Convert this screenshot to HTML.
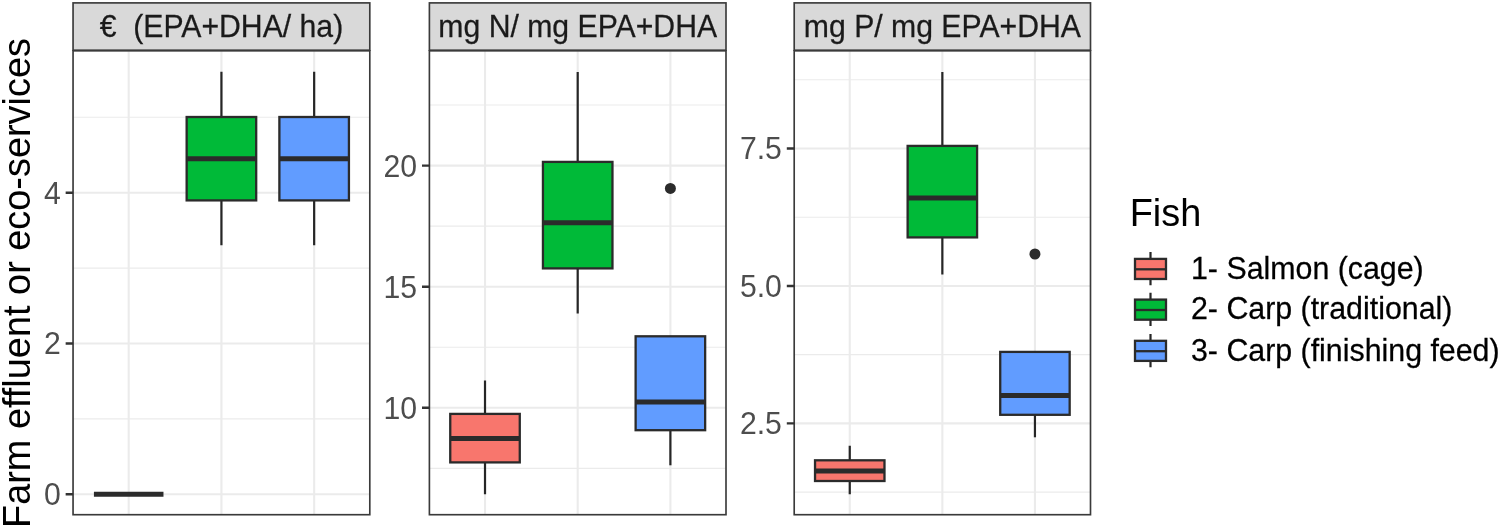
<!DOCTYPE html>
<html><head><meta charset="utf-8"><title>Boxplot</title>
<style>
html,body{margin:0;padding:0;background:#fff;}
svg{display:block;}
text{font-family:"Liberation Sans",sans-serif;}
.gmaj{stroke:#ebebeb;stroke-width:2.1;}
.gmin{stroke:#ebebeb;stroke-width:1.1;}
.tick{font-size:30.2px;fill:#4d4d4d;text-anchor:end;}
.strip{font-size:30.2px;fill:#1a1a1a;text-anchor:middle;stroke:#1a1a1a;stroke-width:0.25;}
.box{stroke:#2b2b2b;stroke-width:2.3;}
.wh{stroke:#262626;stroke-width:2.2;fill:none;}
.med{stroke:#2b2b2b;stroke-width:5;}
.tk{stroke:#333;stroke-width:2.4;}
.bd{fill:none;stroke:#3a3a3a;stroke-width:1.65;}
.leg{font-size:30.35px;fill:#000;stroke:#000;stroke-width:0.25;}
</style></head><body>
<svg width="1500" height="527" viewBox="0 0 1500 527">
<rect width="1500" height="527" fill="#fff"/>
<text transform="translate(30.3,528.0) rotate(-90)" font-size="37.9" fill="#000">Farm effluent or eco-services</text>
<g>
<rect x="73.05" y="50.5" width="296.75" height="464.2" fill="#fff"/>
<line class="gmin" x1="73.05" x2="369.8" y1="418.9" y2="418.9"/>
<line class="gmin" x1="73.05" x2="369.8" y1="268.1" y2="268.1"/>
<line class="gmin" x1="73.05" x2="369.8" y1="117.3" y2="117.3"/>
<line class="gmaj" x1="73.05" x2="369.8" y1="494.3" y2="494.3"/>
<line class="gmaj" x1="73.05" x2="369.8" y1="343.5" y2="343.5"/>
<line class="gmaj" x1="73.05" x2="369.8" y1="192.7" y2="192.7"/>
<line class="gmaj" x1="128.69" x2="128.69" y1="50.5" y2="514.7"/>
<line class="gmaj" x1="221.43" x2="221.43" y1="50.5" y2="514.7"/>
<line class="gmaj" x1="314.16" x2="314.16" y1="50.5" y2="514.7"/>
<line class="med" x1="93.92" x2="163.47" y1="494.3" y2="494.3"/>
<path class="wh" d="M221.43 71.7V117M221.43 200.4V245.3"/>
<rect class="box" x="186.65" y="117" width="69.55" height="83.4" fill="#00ba38"/>
<line class="med" x1="186.65" x2="256.2" y1="158.7" y2="158.7"/>
<path class="wh" d="M314.16 71.7V117M314.16 200.4V245.3"/>
<rect class="box" x="279.38" y="117" width="69.55" height="83.4" fill="#619cff"/>
<line class="med" x1="279.38" x2="348.93" y1="158.7" y2="158.7"/>
<rect class="bd" x="73.05" y="50.8" width="296.75" height="463.9"/>
<rect x="73.05" y="2.9" width="296.75" height="47.3" fill="#d9d9d9" stroke="#3a3a3a" stroke-width="1.65"/>
<text class="strip" transform="translate(221.43,37.0) scale(1,1.03)" xml:space="preserve">€  (EPA+DHA/ ha)</text>
<path class="tk" d="M65.65 494.3H73.05M65.65 343.5H73.05M65.65 192.7H73.05"/>
<text class="tick" transform="translate(60.75,505.2) scale(1,1.02)">0</text>
<text class="tick" transform="translate(60.75,354.4) scale(1,1.02)">2</text>
<text class="tick" transform="translate(60.75,203.6) scale(1,1.02)">4</text>
</g>
<g>
<rect x="429.4" y="50.5" width="296.6" height="464.2" fill="#fff"/>
<line class="gmin" x1="429.4" x2="726" y1="468.35" y2="468.35"/>
<line class="gmin" x1="429.4" x2="726" y1="347.25" y2="347.25"/>
<line class="gmin" x1="429.4" x2="726" y1="226.15" y2="226.15"/>
<line class="gmin" x1="429.4" x2="726" y1="105.05" y2="105.05"/>
<line class="gmaj" x1="429.4" x2="726" y1="407.8" y2="407.8"/>
<line class="gmaj" x1="429.4" x2="726" y1="286.7" y2="286.7"/>
<line class="gmaj" x1="429.4" x2="726" y1="165.6" y2="165.6"/>
<line class="gmaj" x1="485.01" x2="485.01" y1="50.5" y2="514.7"/>
<line class="gmaj" x1="577.7" x2="577.7" y1="50.5" y2="514.7"/>
<line class="gmaj" x1="670.39" x2="670.39" y1="50.5" y2="514.7"/>
<path class="wh" d="M485.01 380.5V413.9M485.01 462.4V494.3"/>
<rect class="box" x="450.25" y="413.9" width="69.52" height="48.5" fill="#f8766d"/>
<line class="med" x1="450.25" x2="519.77" y1="438.4" y2="438.4"/>
<path class="wh" d="M577.7 71.9V161.9M577.7 268.4V313.4"/>
<rect class="box" x="542.94" y="161.9" width="69.52" height="106.5" fill="#00ba38"/>
<line class="med" x1="542.94" x2="612.46" y1="222.8" y2="222.8"/>
<path class="wh" d="M670.39 430.2V465.3"/>
<rect class="box" x="635.63" y="336.3" width="69.52" height="93.9" fill="#619cff"/>
<line class="med" x1="635.63" x2="705.15" y1="401.9" y2="401.9"/>
<circle cx="670.39" cy="188.4" r="5.5" fill="#2b2b2b"/>
<rect class="bd" x="429.4" y="50.8" width="296.6" height="463.9"/>
<rect x="429.4" y="2.9" width="296.6" height="47.3" fill="#d9d9d9" stroke="#3a3a3a" stroke-width="1.65"/>
<text class="strip" transform="translate(577.7,37.0) scale(1,1.03)" xml:space="preserve">mg N/ mg EPA+DHA</text>
<path class="tk" d="M422 407.8H429.4M422 286.7H429.4M422 165.6H429.4"/>
<text class="tick" transform="translate(417.1,418.7) scale(1,1.02)">10</text>
<text class="tick" transform="translate(417.1,297.6) scale(1,1.02)">15</text>
<text class="tick" transform="translate(417.1,176.5) scale(1,1.02)">20</text>
</g>
<g>
<rect x="794.2" y="50.5" width="296.3" height="464.2" fill="#fff"/>
<line class="gmin" x1="794.2" x2="1090.5" y1="492.12" y2="492.12"/>
<line class="gmin" x1="794.2" x2="1090.5" y1="354.67" y2="354.67"/>
<line class="gmin" x1="794.2" x2="1090.5" y1="217.22" y2="217.22"/>
<line class="gmin" x1="794.2" x2="1090.5" y1="79.77" y2="79.77"/>
<line class="gmaj" x1="794.2" x2="1090.5" y1="423.4" y2="423.4"/>
<line class="gmaj" x1="794.2" x2="1090.5" y1="285.95" y2="285.95"/>
<line class="gmaj" x1="794.2" x2="1090.5" y1="148.5" y2="148.5"/>
<line class="gmaj" x1="849.76" x2="849.76" y1="50.5" y2="514.7"/>
<line class="gmaj" x1="942.35" x2="942.35" y1="50.5" y2="514.7"/>
<line class="gmaj" x1="1034.94" x2="1034.94" y1="50.5" y2="514.7"/>
<path class="wh" d="M849.76 445.7V460.3M849.76 481V494.3"/>
<rect class="box" x="815.03" y="460.3" width="69.45" height="20.7" fill="#f8766d"/>
<line class="med" x1="815.03" x2="884.48" y1="470.9" y2="470.9"/>
<path class="wh" d="M942.35 71.9V145.9M942.35 237.4V274.4"/>
<rect class="box" x="907.63" y="145.9" width="69.45" height="91.5" fill="#00ba38"/>
<line class="med" x1="907.63" x2="977.07" y1="197.9" y2="197.9"/>
<path class="wh" d="M1034.94 414.8V437.3"/>
<rect class="box" x="1000.22" y="351.9" width="69.45" height="62.9" fill="#619cff"/>
<line class="med" x1="1000.22" x2="1069.67" y1="395.4" y2="395.4"/>
<circle cx="1034.94" cy="254" r="5.5" fill="#2b2b2b"/>
<rect class="bd" x="794.2" y="50.8" width="296.3" height="463.9"/>
<rect x="794.2" y="2.9" width="296.3" height="47.3" fill="#d9d9d9" stroke="#3a3a3a" stroke-width="1.65"/>
<text class="strip" transform="translate(942.35,37.0) scale(1,1.03)" xml:space="preserve">mg P/ mg EPA+DHA</text>
<path class="tk" d="M786.8 423.4H794.2M786.8 285.95H794.2M786.8 148.5H794.2"/>
<text class="tick" transform="translate(781.9,434.3) scale(1,1.02)">2.5</text>
<text class="tick" transform="translate(781.9,296.85) scale(1,1.02)">5.0</text>
<text class="tick" transform="translate(781.9,159.4) scale(1,1.02)">7.5</text>
</g>
<g>
<text x="1129.7" y="226" font-size="37.9" fill="#000">Fish</text>
<path class="wh" d="M1150.5 252.1V258.9M1150.5 279V285.3"/>
<rect class="box" x="1135" y="258.9" width="31" height="20.1" fill="#f8766d"/>
<line x1="1135" x2="1166" y1="269.3" y2="269.3" stroke="#2b2b2b" stroke-width="2.3"/>
<text class="leg" transform="translate(1191,278.7) scale(1,1.03)">1- Salmon (cage)</text>
<path class="wh" d="M1150.5 292.8V299.6M1150.5 319.7V326"/>
<rect class="box" x="1135" y="299.6" width="31" height="20.1" fill="#00ba38"/>
<line x1="1135" x2="1166" y1="310" y2="310" stroke="#2b2b2b" stroke-width="2.3"/>
<text class="leg" transform="translate(1191,319.4) scale(1,1.03)">2- Carp (traditional)</text>
<path class="wh" d="M1150.5 334V340.8M1150.5 360.9V367.2"/>
<rect class="box" x="1135" y="340.8" width="31" height="20.1" fill="#619cff"/>
<line x1="1135" x2="1166" y1="351.2" y2="351.2" stroke="#2b2b2b" stroke-width="2.3"/>
<text class="leg" transform="translate(1191,360.6) scale(1,1.03)">3- Carp (finishing feed)</text>
</g>
</svg>
</body></html>
